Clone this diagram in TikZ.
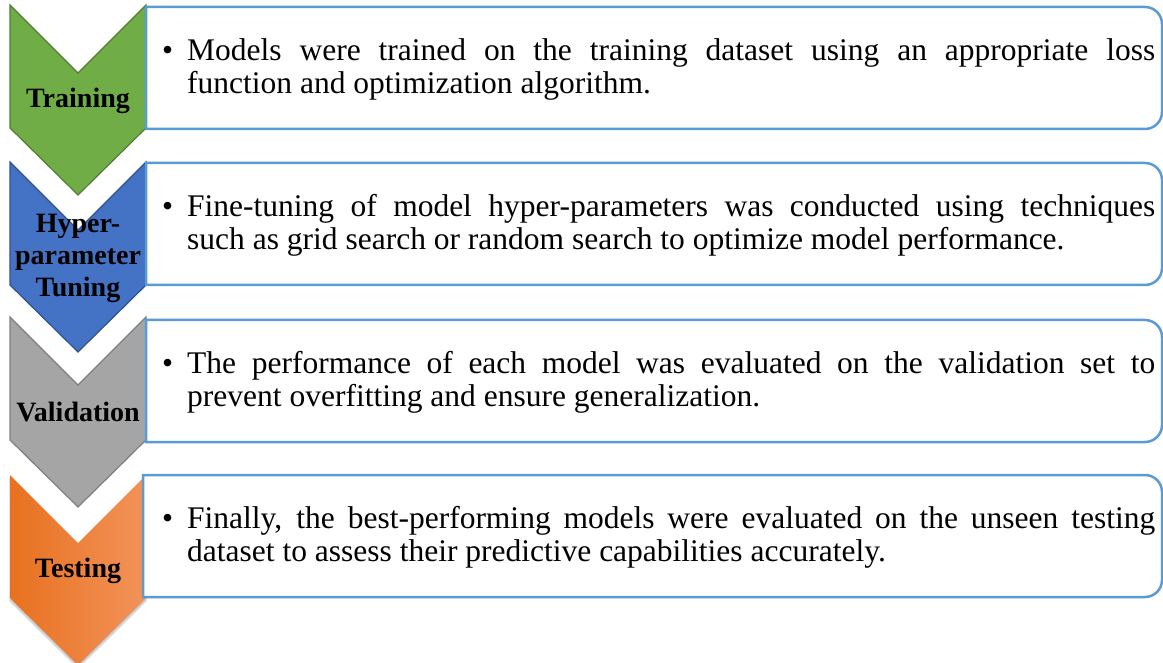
\documentclass[tikz,border=0pt]{standalone}
\usepackage{fontspec}
\newfontfamily\timesfont{Liberation Serif}
\usetikzlibrary{shadows.blur}

\definecolor{stGreen}{HTML}{70AD47}
\definecolor{stGreenEdge}{HTML}{507E32}
\definecolor{stBlue}{HTML}{4472C4}
\definecolor{stBlueEdge}{HTML}{2F528F}
\definecolor{stGray}{HTML}{A5A5A5}
\definecolor{stGrayEdge}{HTML}{7F7F7F}
\definecolor{stOrangeL}{HTML}{E8711F}
\definecolor{stOrangeR}{HTML}{F2935A}
\definecolor{boxBlue}{HTML}{5B9BD5}

\begin{document}
\begin{tikzpicture}
  [ x=1pt, y=-1pt,
    stage/.style={line width=1.2pt, line join=miter},
    box/.style={draw=boxBlue, line width=2.5pt, fill=white},
    lbl/.style={font=\timesfont\fontsize{28}{32}\selectfont\bfseries, align=center, inner sep=0pt},
    txt/.style={font=\timesfont\fontsize{31.5}{33}\selectfont, text width=968pt,
      align=justify, inner sep=0pt, anchor=west}
  ]
  \useasboundingbox (0,0) rectangle (1163,663);

  % chevrons
  \draw [stage, fill=stGreen, draw=stGreenEdge]
    (10,5) -- (78,73) -- (146,5) -- (146,128) -- (78,195) -- (10,128) -- cycle;
  \draw [stage, fill=stBlue, draw=stBlueEdge]
    (10,162) -- (78,230) -- (146,162) -- (146,285) -- (78,352) -- (10,285) -- cycle;
  \draw [stage, fill=stGray, draw=stGrayEdge]
    (10,317) -- (78,385) -- (146,317) -- (146,440) -- (78,507) -- (10,440) -- cycle;
  \path [left color=stOrangeL, right color=stOrangeR,
         blur shadow={shadow xshift=0pt, shadow yshift=-3pt, shadow opacity=25}]
    (10,475) -- (78,543) -- (146,475) -- (146,598) -- (78,665) -- (10,598) -- cycle;

  % boxes
  \draw [box] (146,129) -- (146,7) -- (1000,7) [rounded corners=17pt]
    -- (1162,7) -- (1162,129) -- (1000,129) [sharp corners] -- cycle;
  \draw [box] (146,285) -- (146,163) -- (1000,163) [rounded corners=17pt]
    -- (1162,163) -- (1162,285) -- (1000,285) [sharp corners] -- cycle;
  \draw [box] (146,442) -- (146,320) -- (1000,320) [rounded corners=17pt]
    -- (1162,320) -- (1162,442) -- (1000,442) [sharp corners] -- cycle;
  \draw [box] (143,597) -- (143,475) -- (1000,475) [rounded corners=17pt]
    -- (1162,475) -- (1162,597) -- (1000,597) [sharp corners] -- cycle;

  % stage labels
  \node (lTraining)   at (78,101) [lbl] {Training};
  \node (lTuning)     at (78,258) [lbl] {Hyper-\\parameter\\Tuning};
  \node (lValidation) at (78,412) [lbl] {Validation};
  \node (lTesting)    at (78,571) [lbl] {Testing};

  % descriptions
  \node (dTraining) at (187,69) [txt] {\llap{\textbullet\hspace{14pt}}Models were
    trained on the training dataset using an appropriate loss\linebreak
    function and optimization algorithm.};
  \node (dTuning) at (187,225) [txt] {\llap{\textbullet\hspace{14pt}}Fine-tuning of
    model hyper-parameters was conducted using techniques\linebreak
    such as grid search or random search to optimize model performance.};
  \node (dValidation) at (187,382) [txt] {\llap{\textbullet\hspace{14pt}}The
    performance of each model was evaluated on the validation set to\linebreak
    prevent overfitting and ensure generalization.};
  \node (dTesting) at (187,537) [txt] {\llap{\textbullet\hspace{14pt}}Finally, the
    best-performing models were evaluated on the unseen testing\linebreak
    dataset to assess their predictive capabilities accurately.};
\end{tikzpicture}
\end{document}
